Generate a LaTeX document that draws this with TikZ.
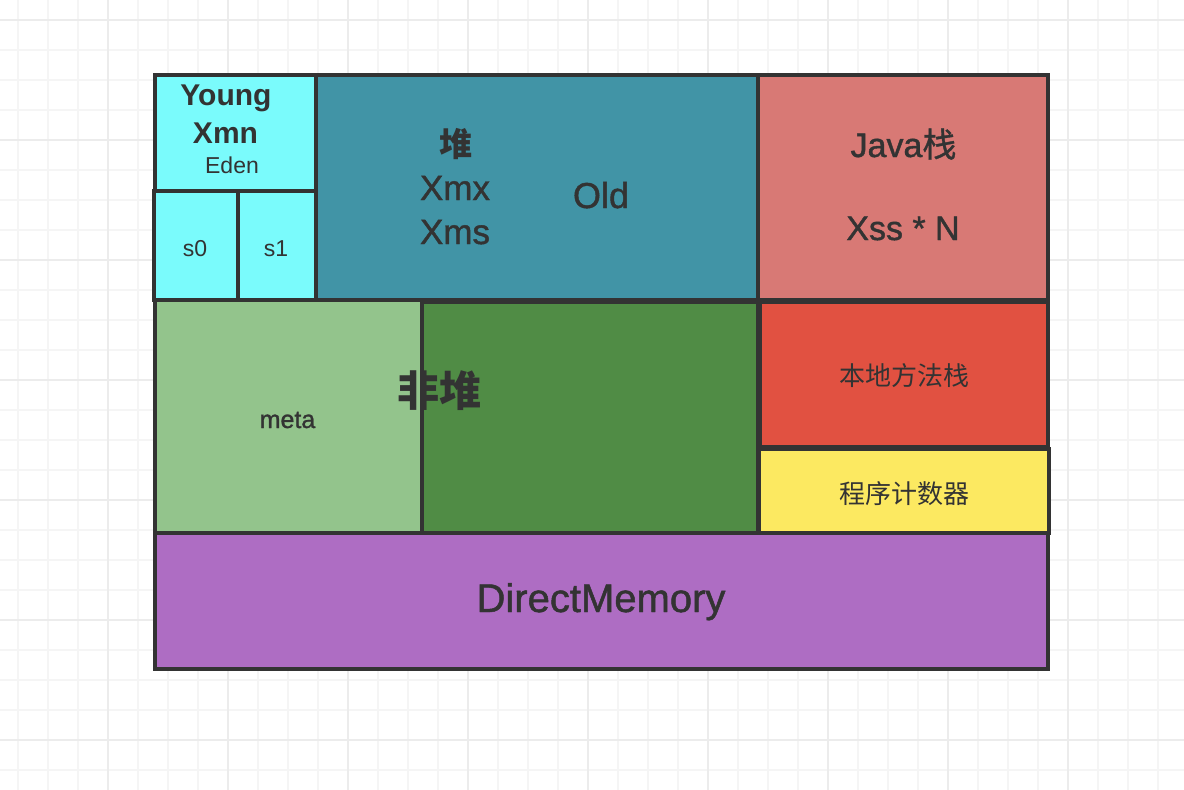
\documentclass[tikz,border=0pt]{standalone}
\usepackage{fontspec}
\setmainfont{Liberation Sans}
\newfontfamily\medium{Liberation Sans}[FakeBold=1.2]
\newfontfamily\cjk{Noto Sans CJK SC}
\newfontfamily\cjkmed{Noto Sans CJK SC}[FakeBold=1]
\definecolor{edencyan}{RGB}{122,251,252}
\definecolor{oldteal}{RGB}{65,148,166}
\definecolor{javapink}{RGB}{216,121,117}
\definecolor{metagreen}{RGB}{147,196,140}
\definecolor{nonheapgreen}{RGB}{80,140,69}
\definecolor{nativered}{RGB}{225,81,65}
\definecolor{pcyellow}{RGB}{252,233,97}
\definecolor{directpurple}{RGB}{174,109,195}
\definecolor{borderdark}{RGB}{51,51,51}
\definecolor{gridminor}{RGB}{245,245,245}
\definecolor{gridmajor}{RGB}{236,236,236}
\tikzset{
    % Memory area style
    area/.style={
        rectangle, draw=borderdark, line width=4pt,
        inner sep=0pt, outer sep=0pt
    },
    % Label style
    lbl/.style={
        anchor=base, text=borderdark, inner sep=0pt
    },
    % Background grid styles
    gridline/.style={draw=gridminor, line width=2pt},
    gridbold/.style={draw=gridmajor, line width=2pt}
}

\begin{document}
\begin{tikzpicture}[x=1pt,y=-1pt]

% Page and grid
\useasboundingbox (0,0) rectangle (1184,790);
\fill[white] (0,0) rectangle (1184,790);
\foreach \gx in {18,48,...,1188} \draw[gridline] (\gx,0) -- (\gx,790);
\foreach \gy in {20,50,...,790} \draw[gridline] (0,\gy) -- (1184,\gy);
\foreach \gx in {108,228,...,1068} \draw[gridbold] (\gx,0) -- (\gx,790);
\foreach \gy in {20,140,...,740} \draw[gridbold] (0,\gy) -- (1184,\gy);

% Heap and Java stack
\node[area, fill=oldteal, minimum width=442pt, minimum height=225pt] (old) at (537,187.5) {};
\node[area, fill=javapink, minimum width=290pt, minimum height=225pt] (javastack) at (903,187.5) {};

% Young generation
\node[area, fill=edencyan, minimum width=161pt, minimum height=116pt] (eden) at (235.5,133) {};
\node[area, fill=edencyan, minimum width=84pt, minimum height=109pt] (s0) at (196,245.5) {};
\node[area, fill=edencyan, minimum width=78pt, minimum height=109pt] (s1) at (277,245.5) {};

% Non-heap
\node[area, fill=metagreen, minimum width=267pt, minimum height=233pt] (meta) at (288.5,416.5) {};
\node[area, fill=nonheapgreen, minimum width=336pt, minimum height=231pt] (nonheap) at (590,417.5) {};
\node[area, fill=nativered, minimum width=288pt, minimum height=145pt] (native) at (904,374) {};
\node[area, fill=pcyellow, minimum width=290pt, minimum height=84pt] (pc) at (904,491) {};

% Direct memory
\node[area, fill=directpurple, minimum width=893pt, minimum height=136pt] (direct) at (601.5,601) {};

% Labels
\node[lbl, font=\fontsize{30}{36}\selectfont\bfseries] (younglbl) at (226,105) {Young};
\node[lbl, font=\fontsize{30}{36}\selectfont\bfseries] (xmnlbl) at (225.5,143) {Xmn};
\node[lbl, font=\fontsize{23}{28}\selectfont] (edenlbl) at (232,173) {Eden};
\node[lbl, font=\fontsize{23}{28}\selectfont] (s0lbl) at (195,256) {s0};
\node[lbl, font=\fontsize{23}{28}\selectfont] (s1lbl) at (276,256) {s1};
\node[lbl, font=\fontsize{33}{40}\selectfont\cjk\bfseries] (heaplbl) at (455.5,156) {堆};
\node[lbl, font=\fontsize{35}{42}\selectfont\medium] (xmxlbl) at (455,200) {Xmx};
\node[lbl, font=\fontsize{35}{42}\selectfont\medium] (xmslbl) at (455,244) {Xms};
\node[lbl, font=\fontsize{36}{43}\selectfont\medium] (oldlbl) at (601,208) {Old};
\node[lbl, font=\fontsize{34}{41}\selectfont\medium] (javalbl) at (903.5,157) {Java{\cjkmed 栈}};
\node[lbl, font=\fontsize{34}{41}\selectfont\medium] (xsslbl) at (903,240) {Xss * N};
\node[lbl, font=\fontsize{42}{50}\selectfont\cjk\bfseries] (nonheaplbl) at (439.5,406) {非堆};
\node[lbl, font=\fontsize{25}{30}\selectfont\medium] (metalbl) at (287.5,428) {meta};
\node[lbl, font=\fontsize{26}{31}\selectfont\cjk] (nativelbl) at (904,385) {本地方法栈};
\node[lbl, font=\fontsize{26}{31}\selectfont\cjk] (pclbl) at (904,503) {程序计数器};
\node[lbl, font=\fontsize{40}{48}\selectfont\medium] (directlbl) at (601,612) {DirectMemory};

\end{tikzpicture}
\end{document}
